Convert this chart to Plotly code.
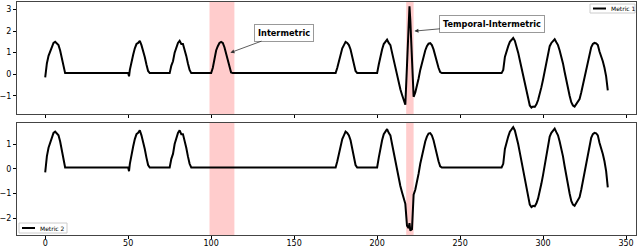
import plotly.graph_objects as go

# ---------------- data ----------------
seg_a_x = [0, 1, 2, 3, 4, 5, 6, 7, 8, 9, 10, 11, 12,
           50, 50.5, 51, 52, 53, 54, 55, 56, 57, 58, 59, 60, 61, 62, 63,
           75, 76, 77, 78, 79, 80, 81, 82, 83, 84, 85, 86, 87, 88]
seg_a_y = [-0.15, 0.5, 0.85, 1.05, 1.3, 1.45, 1.5, 1.42, 1.35, 1.1, 0.7, 0.3, 0.05,
           0.05, -0.1, 0.2, 0.6, 0.9, 1.2, 1.4, 1.45, 1.55, 1.35, 1.1, 0.8, 0.45, 0.15, 0.05,
           0.05, 0.4, 0.6, 1.0, 1.2, 1.45, 1.55, 1.4, 1.4, 1.15, 0.85, 0.5, 0.2, 0.05]

bump_b_x = [100, 101, 102, 103, 104, 105, 106, 107, 108, 109, 110, 111, 112, 113]
bump_b_y = [0.05, 0.3, 0.75, 1.1, 1.3, 1.45, 1.5, 1.45, 1.25, 0.95, 0.6, 0.3, 0.08, 0.05]

seg_c_x = [175, 176, 177, 178, 179, 180, 181, 182, 183, 184, 185, 186, 187, 188,
           200, 201, 202, 203, 204, 205, 206, 207, 208, 209, 210, 211, 212, 213,
           214, 215, 216, 217]
seg_c_y = [0.05, 0.3, 0.65, 0.95, 1.2, 1.35, 1.5, 1.45, 1.35, 1.15, 0.8, 0.45, 0.15, 0.05,
           0.05, 0.45, 0.9, 1.15, 1.4, 1.5, 1.6, 1.45, 1.35, 1.0, 0.65, 0.2, -0.1, -0.45,
           -0.7, -0.95, -1.2, -1.42]

spike1_x = [218, 219, 219.5, 220, 221]
spike1_y = [0.4, 2.6, 3.15, 2.5, 0.3]

dip2_x = [218, 219, 219.5, 220, 221, 221.5]
dip2_y = [-2.3, -2.4, -2.2, -2.5, -2.45, -1.2]

seg_d_x = [222, 223, 224, 225, 226, 227, 228, 229, 230, 231, 232, 233, 234, 235,
           236, 237, 238, 239,
           275, 276, 277, 278, 279, 280, 281, 282, 283, 284, 285, 286, 287, 288,
           289, 290, 291, 292, 293, 294, 295, 296, 297, 298, 299, 300, 301, 302,
           303, 304, 305, 306, 307, 308, 309, 310, 311, 312, 313, 314, 315, 316,
           317, 318, 319, 320, 321, 322, 323, 324, 325, 326, 327, 328, 329, 330,
           331, 332, 333, 334, 335, 336, 337, 338, 339]
seg_d_y = [-1.05, -0.85, -0.55, -0.2, 0.2, 0.55, 0.85, 1.1, 1.3, 1.42, 1.44, 1.35, 1.15, 0.85,
           0.55, 0.3, 0.1, 0.05,
           0.05, 0.2, 0.8, 1.1, 1.3, 1.5, 1.6, 1.68, 1.55, 1.3, 1.0, 0.65, 0.3, -0.05,
           -0.45, -0.75, -1.1, -1.45, -1.55, -1.5, -1.52, -1.4, -1.2, -0.95, -0.6, -0.25, 0.15, 0.6,
           1.0, 1.3, 1.45, 1.55, 1.62, 1.48, 1.35, 1.1, 0.85, 0.5, 0.1, -0.3, -0.65, -1.0,
           -1.3, -1.45, -1.5, -1.4, -1.3, -1.15, -0.85, -0.5, -0.15, 0.25, 0.65, 0.95, 1.25, 1.4,
           1.45, 1.43, 1.35, 1.05, 0.85, 0.6, 0.3, -0.1, -0.75]

metric1_x = seg_a_x + bump_b_x + seg_c_x + spike1_x + seg_d_x
metric1_y = seg_a_y + bump_b_y + seg_c_y + spike1_y + seg_d_y
metric2_x = seg_a_x + seg_c_x + dip2_x + seg_d_x
metric2_y = seg_a_y + seg_c_y + dip2_y + seg_d_y

shade_regions = [(99, 114), (217.5, 222)]
x_ticks = [0, 50, 100, 150, 200, 250, 300, 350]
top_y_ticks = [-1, 0, 1, 2, 3]
bottom_y_ticks = [-2, -1, 0, 1]

# ---------------- figure ----------------
W, H = 640, 248
ML, MR, MT, MB = 17, 4, 2, 13
PW, PH = W - ML - MR, H - MT - MB


def px(x):
    return (x - ML) / PW


def py(y):
    return (H - MB - y) / PH


FONT = "DejaVu Sans"
fig = go.Figure()
fig.add_trace(go.Scatter(x=metric1_x, y=metric1_y, mode="lines", name="Metric 1",
                         line=dict(color="black", width=2), xaxis="x2", yaxis="y2",
                         showlegend=False))
fig.add_trace(go.Scatter(x=metric2_x, y=metric2_y, mode="lines", name="Metric 2",
                         line=dict(color="black", width=2), xaxis="x", yaxis="y",
                         showlegend=False))

shapes = []
for (a, b) in shade_regions:
    for yr in ("y domain", "y2 domain"):
        shapes.append(dict(type="rect", xref="x", yref=yr, x0=a, x1=b, y0=0, y1=1,
                           fillcolor="rgba(255,0,0,0.2)", line=dict(width=0), layer="below"))


# manual legends (matplotlib-like small legends)
def legend(x0, y0, x1, y1, label):
    ym = (y0 + y1) / 2
    shapes.append(dict(type="rect", xref="paper", yref="paper",
                       x0=px(x0), x1=px(x1), y0=py(y1), y1=py(y0),
                       fillcolor="white", line=dict(color="#cccccc", width=1)))
    shapes.append(dict(type="line", xref="paper", yref="paper",
                       x0=px(x0 + 3), x1=px(x0 + 16), y0=py(ym), y1=py(ym),
                       line=dict(color="black", width=2)))
    return dict(text=label, xref="paper", yref="paper", x=px(x0 + 19), y=py(ym),
                xanchor="left", yanchor="middle", showarrow=False,
                font=dict(family=FONT, size=6, color="black"))


ann = [legend(590, 4, 635, 13, "Metric 1"), legend(19, 223, 67, 233, "Metric 2")]

ann.append(dict(text="<b>Intermetric</b>", x=111.6, y=1.0, xref="x2", yref="y2",
                ax=54, ay=-20, showarrow=True, arrowhead=2, arrowsize=1, arrowwidth=0.8,
                arrowcolor="#333", font=dict(family=FONT, size=8.2, color="black"),
                bgcolor="white", bordercolor="#999", borderwidth=1, borderpad=3))
ann.append(dict(text="<b>Temporal-Intermetric</b>", x=222.5, y=2.0, xref="x2", yref="y2",
                ax=78, ay=-7, showarrow=True, arrowhead=2, arrowsize=1, arrowwidth=0.8,
                arrowcolor="#333", font=dict(family=FONT, size=8.2, color="black"),
                bgcolor="white", bordercolor="#999", borderwidth=1, borderpad=3))

axis_common = dict(showgrid=False, zeroline=False, showline=True, mirror=True,
                   linecolor="#444", linewidth=1, ticks="outside", ticklen=3,
                   tickcolor="black", tickwidth=0.8,
                   tickfont=dict(family=FONT, size=8, color="black"))

fig.update_layout(
    width=W, height=H, margin=dict(l=ML, r=MR, t=MT, b=MB, autoexpand=False),
    paper_bgcolor="white", plot_bgcolor="white", shapes=shapes, annotations=ann,
    xaxis=dict(domain=[0, 1], anchor="y", range=[-17, 356], tickvals=x_ticks,
               ticklabelstandoff=-3, **axis_common),
    xaxis2=dict(domain=[0, 1], anchor="y2", range=[-17, 356], tickvals=x_ticks,
                showticklabels=False, matches="x", **axis_common),
    yaxis=dict(domain=[0, 0.4807], anchor="x", range=[-2.68, 1.85],
               tickvals=bottom_y_ticks, **axis_common),
    yaxis2=dict(domain=[0.519, 1], anchor="x2", range=[-1.85, 3.35],
                tickvals=top_y_ticks, **axis_common),
)

fig.write_html("out.html", config={"displayModeBar": False},
               post_script="document.body.style.margin='0';document.body.style.padding='0';"
                           "document.documentElement.style.overflow='hidden';")
